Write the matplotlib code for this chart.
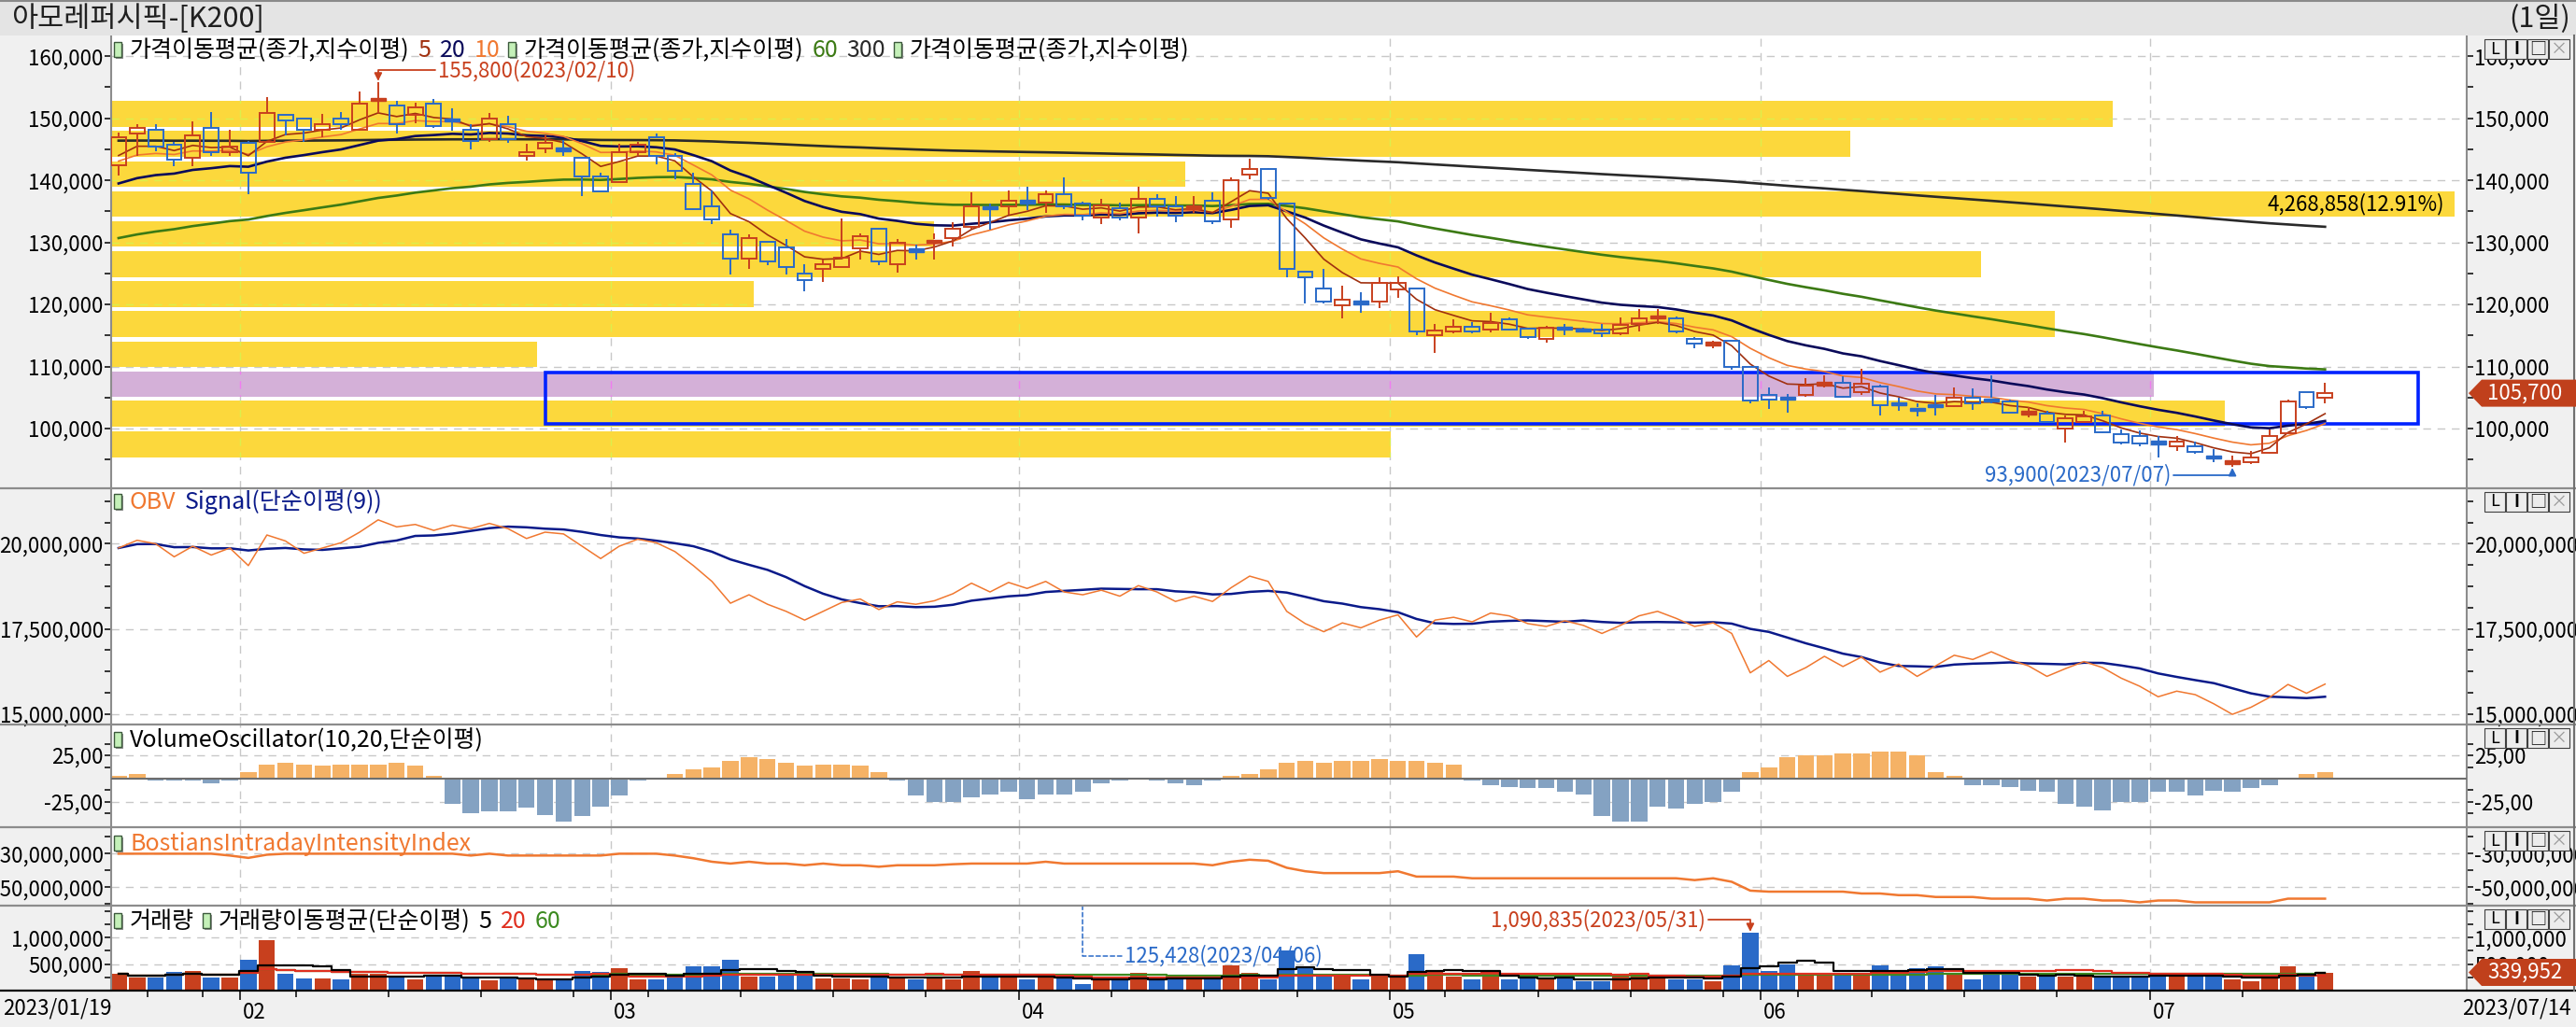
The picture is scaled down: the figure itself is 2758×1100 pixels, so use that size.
import numpy as np
import pandas as pd
import matplotlib
matplotlib.use("Agg")
import matplotlib.pyplot as plt
import matplotlib.transforms as mtransforms
from matplotlib.patches import Rectangle, Polygon
from matplotlib.collections import LineCollection
from matplotlib.lines import Line2D
from matplotlib.path import Path
from matplotlib.ticker import FixedLocator, MultipleLocator, FuncFormatter

plt.rcParams['font.family'] = ['Noto Sans CJK KR', 'DejaVu Sans']

# ---------------- data ----------------
holidays = ['2023-01-23', '2023-01-24', '2023-03-01', '2023-05-01',
            '2023-05-05', '2023-05-29', '2023-06-06']
dates = pd.bdate_range('2023-01-19', '2023-07-14')
dates = dates[~dates.isin(pd.to_datetime(holidays))]

open_ = np.array([
    142400, 147600, 148100, 145700, 143600, 148500, 144600, 146100, 146200, 150600,
    150000, 148100, 150000, 148100, 153000, 152100, 150500, 152400, 150000, 148100,
    146600, 149100, 143900, 145100, 145200, 143600, 140600, 139700, 144600, 147000,
    144000, 139400, 135800, 131300, 127400, 130100, 129200, 125000, 125800, 126100,
    129100, 132200, 126500, 129000, 129900, 130700, 132500, 135800, 135800, 136800,
    136400, 137700, 136200, 134000, 135500, 134000, 137000, 135800, 135400, 136700,
    133700, 141000, 141900, 136200, 125300, 122600, 119800, 120400, 120500, 122400,
    122600, 115000, 115600, 116400, 115900, 117600, 116100, 114400, 116300, 116000,
    116000, 115300, 116900, 117900, 117800, 114500, 113500, 114100, 110000, 105400,
    105100, 105400, 106900, 107300, 105800, 106700, 104100, 103400, 103900, 103600,
    104900, 104900, 104300, 102300, 102400, 100000, 101100, 102100, 99100, 98800,
    97900, 97200, 97200, 95600, 94300, 94600, 96100, 99300, 105800, 104900])
high = np.array([
    147700, 149100, 149100, 146200, 149500, 151000, 148200, 146400, 153400, 150600,
    150000, 150700, 151000, 154300, 155800, 152800, 152500, 153100, 151600, 149000,
    150900, 150400, 145900, 147200, 146500, 143600, 141300, 145900, 146200, 147500,
    144400, 141200, 138400, 132000, 131300, 130100, 130500, 126500, 127300, 133800,
    131400, 132200, 130500, 129600, 131400, 133200, 138000, 136200, 138300, 138900,
    138300, 140500, 136500, 137000, 136400, 138900, 137700, 137400, 137400, 138000,
    140500, 143500, 142000, 136400, 125300, 125700, 123000, 122000, 124400, 124500,
    122600, 116900, 117600, 117100, 118700, 117900, 116300, 116500, 116900, 116200,
    116900, 117900, 119200, 119200, 118000, 114800, 114200, 114100, 110000, 106600,
    105600, 108200, 108600, 108500, 109700, 107100, 104900, 104100, 105400, 106600,
    106500, 108600, 104700, 103500, 102900, 102100, 102800, 102800, 99800, 99700,
    98800, 98800, 97900, 96700, 95600, 96400, 99800, 104600, 105800, 107400])
low = np.array([
    140800, 143900, 144700, 142300, 142300, 143900, 143900, 137800, 146000, 147200,
    146200, 146900, 148100, 148000, 150900, 147500, 149200, 148400, 148000, 145000,
    146200, 146000, 143200, 144400, 143900, 137500, 138200, 139700, 143900, 142600,
    140200, 135200, 133000, 124900, 125800, 126400, 124900, 122100, 123600, 126100,
    127300, 126400, 125100, 127300, 127300, 129400, 132200, 132000, 134400, 135200,
    134800, 135300, 133600, 132900, 133600, 131400, 134200, 133300, 134800, 132900,
    132300, 140200, 136900, 124400, 120200, 120200, 117800, 118700, 119400, 121100,
    115000, 112200, 115400, 115400, 115500, 115800, 114500, 113900, 115000, 115500,
    114700, 115000, 115600, 116900, 115400, 112900, 113000, 109500, 104100, 103200,
    102600, 105100, 106600, 104900, 105400, 102100, 102900, 101900, 102100, 103400,
    103000, 104100, 102400, 101800, 100900, 97800, 100900, 99300, 97400, 97200,
    95400, 96400, 95900, 94600, 93900, 94300, 95900, 99300, 103100, 104100])
close = np.array([
    147000, 148500, 145500, 143400, 147300, 144600, 145500, 141200, 150900, 149600,
    148100, 149100, 149100, 152400, 153100, 149100, 151800, 148800, 149400, 146400,
    150000, 146600, 144600, 146100, 144800, 140600, 138200, 144600, 145700, 143900,
    141600, 135400, 133700, 127400, 130700, 127000, 126100, 124000, 126500, 127600,
    131000, 127000, 130000, 128500, 130500, 132200, 135800, 135400, 136700, 136300,
    137700, 135800, 134300, 136000, 134000, 137000, 135800, 134300, 135900, 133400,
    140100, 141900, 137100, 125700, 124400, 120500, 120800, 120200, 123400, 123400,
    115600, 115800, 116400, 115600, 117000, 116000, 114800, 116300, 116100, 115800,
    115300, 116700, 117800, 118000, 115600, 113700, 113900, 109900, 104500, 104600,
    104600, 106900, 107500, 105100, 107200, 103700, 103900, 102800, 103500, 104900,
    104000, 104300, 102600, 102800, 101100, 101600, 102000, 99400, 97800, 97600,
    97600, 97900, 96300, 95200, 94900, 95400, 98800, 104300, 103500, 105700])
volume = np.array([
    313000, 247000, 247000, 353000, 367000, 247000, 247000, 587000, 947000, 313000,
    233000, 233000, 200000, 313000, 313000, 267000, 200000, 267000, 300000, 220000,
    187000, 220000, 200000, 187000, 200000, 367000, 347000, 413000, 200000, 200000,
    267000, 447000, 447000, 587000, 267000, 267000, 300000, 300000, 233000, 233000,
    200000, 333000, 253000, 200000, 250000, 200000, 367000, 247000, 247000, 200000,
    247000, 267000, 125428, 200000, 200000, 333000, 200000, 200000, 200000, 200000,
    480000, 333000, 200000, 767000, 433000, 267000, 267000, 200000, 300000, 300000,
    687000, 367000, 267000, 200000, 313000, 200000, 220000, 220000, 220000, 167000,
    167000, 300000, 300000, 233000, 200000, 200000, 167000, 480000, 1090835, 367000,
    500000, 333000, 333000, 333000, 333000, 480000, 333000, 413000, 447000, 300000,
    200000, 333000, 333000, 267000, 267000, 267000, 267000, 267000, 267000, 267000,
    333000, 267000, 267000, 267000, 200000, 167000, 333000, 447000, 333000, 339952])
obv = np.array([
    19876000, 20103000, 20000000, 19618000, 19928000, 19669000, 19876000, 19359000, 20258000, 20083000,
    19721000, 19876000, 20031000, 20341000, 20703000, 20496000, 20568000, 20393000, 20548000, 20444000,
    20599000, 20444000, 20155000, 20341000, 20289000, 19928000, 19566000, 19928000, 20134000, 20031000,
    19773000, 19359000, 18895000, 18254000, 18502000, 18223000, 18016000, 17758000, 18016000, 18275000,
    18378000, 18068000, 18295000, 18223000, 18326000, 18533000, 18843000, 18585000, 18864000, 18688000,
    18895000, 18585000, 18502000, 18636000, 18461000, 18771000, 18585000, 18306000, 18461000, 18306000,
    18709000, 19050000, 18895000, 18016000, 17655000, 17417000, 17676000, 17531000, 17758000, 17913000,
    17262000, 17758000, 17841000, 17707000, 17965000, 17882000, 17655000, 17572000, 17738000, 17603000,
    17366000, 17603000, 17882000, 18016000, 17810000, 17572000, 17676000, 17366000, 16209000, 16570000,
    16105000, 16363000, 16694000, 16394000, 16673000, 16229000, 16467000, 16105000, 16415000, 16725000,
    16601000, 16828000, 16591000, 16415000, 16105000, 16333000, 16539000, 16363000, 16054000, 15816000,
    15506000, 15671000, 15568000, 15299000, 14989000, 15196000, 15485000, 15868000, 15609000, 15878000])
vol_osc = np.array([
    3.4, 5.3, -2.3, -2.3, -2.3, -4.9, -2.3, 7.2, 14.8, 17.4,
    15.5, 13.6, 15.5, 15.5, 15.5, 17.4, 13.6, 3.4, -27.3, -37.5,
    -34.8, -34.8, -31.1, -39.0, -46.6, -40.5, -30.7, -18.6, -2.3, 0.5,
    5.3, 9.8, 11.7, 19.3, 23.5, 21.2, 17.4, 13.6, 14.8, 14.8,
    13.6, 7.2, -2.3, -18.6, -25.0, -25.0, -20.5, -16.7, -14.4, -22.3,
    -16.7, -16.7, -14.4, -4.9, -2.3, -0.5, -2.3, -4.9, -6.8, -2.3,
    3.4, 5.3, 9.8, 17.4, 19.3, 17.4, 19.3, 19.3, 21.2, 19.3,
    19.3, 17.4, 14.8, -2.3, -6.8, -8.7, -10.6, -10.6, -14.4, -16.7,
    -40.5, -46.6, -46.6, -30.7, -32.6, -26.9, -25.0, -14.4, 7.2, 11.7,
    23.5, 25.0, 25.0, 27.3, 27.3, 29.5, 29.5, 25.0, 7.2, 3.4,
    -6.8, -6.8, -8.7, -12.9, -14.4, -26.9, -30.7, -34.5, -25.0, -25.0,
    -14.4, -14.4, -18.6, -12.9, -14.4, -10.6, -6.8, 0.0, 5.3, 7.2])
bii_m = np.array([
    -30.0, -30.0, -30.0, -30.0, -30.0, -30.0, -31.1, -32.5, -30.6, -30.0,
    -30.0, -30.0, -30.0, -30.0, -30.0, -30.0, -30.0, -30.0, -30.0, -31.1,
    -30.0, -31.1, -31.1, -31.1, -31.1, -31.1, -31.1, -30.0, -30.0, -30.0,
    -31.1, -32.7, -34.8, -35.9, -34.8, -35.9, -35.9, -36.9, -35.9, -36.9,
    -36.9, -37.8, -36.9, -36.9, -36.9, -36.3, -35.9, -35.9, -35.9, -35.9,
    -34.8, -35.9, -35.9, -35.9, -35.9, -35.9, -35.9, -35.9, -35.9, -36.9,
    -34.8, -33.6, -34.2, -38.4, -40.5, -41.6, -41.6, -41.6, -41.6, -40.5,
    -43.7, -43.7, -43.7, -44.7, -44.7, -44.7, -44.7, -44.7, -44.7, -44.7,
    -44.7, -44.7, -44.7, -44.7, -44.7, -45.8, -44.7, -46.8, -52.1, -52.7,
    -52.7, -52.7, -52.7, -52.7, -53.8, -53.8, -54.8, -54.8, -55.9, -55.9,
    -55.9, -56.9, -56.9, -56.9, -58.0, -56.9, -56.9, -58.0, -58.0, -59.1,
    -58.0, -58.0, -59.1, -59.1, -59.1, -59.1, -59.1, -56.9, -56.9, -56.9])

# starting values of the exponential averages (read at the first candle)
ema_seed = {5: 144000, 10: 143100, 20: 139500, 60: 130700, 300: 146400}

# volume profile bands: lower price edge, volume
band_low = [95400, 100300, 105100, 109900, 114800, 119600,
            124400, 129300, 134100, 138900, 143800, 148600]
band_vol = [2330200, 3850100, 3720700, 776200, 3540300, 1171000,
            3405900, 1499500, 4268858, 1955700, 3167600, 3645900]
band_pct_max = 12.91
BAND_H = 4150

# user drawn box
box_idx = (23, 124)
box_price = (100750, 109000)

# ---------------- style ----------------
W, H = 2758, 1100
AX_L, AX_R = 119, 2641
XL, XR = -0.40, 126.64
RED = '#C8401E'
BLUE = '#2A6AC8'
TAG = '#C0401C'
YELLOW = '#FCD83C'
PURPLE = '#D4B0D8'
GRID = '#C8C8C8'
FS_TICK, FS_LEG, FS_TITLE, FS_ANN = 16, 18, 22, 16
C_E5, C_E10, C_E20, C_E60, C_E300 = '#A0300F', '#F07830', '#0A0A5A', '#3C7A14', '#2A2A2A'

n = len(close)
x = np.arange(n)
up = close >= open_
cols = np.where(up, RED, BLUE)

month_start = [i for i in range(1, n) if dates[i].month != dates[i - 1].month]
week_start = [i for i in range(1, n)
              if dates[i].isocalendar()[1] != dates[i - 1].isocalendar()[1]]
month_x = np.array(month_start) - 0.45
week_x = np.array(week_start) - 0.45


def ema(values, period, seed):
    a = 2.0 / (period + 1)
    out = np.empty(len(values))
    out[0] = seed
    for i in range(1, len(values)):
        out[i] = out[i - 1] + a * (values[i] - out[i - 1])
    return out


fig = plt.figure(figsize=(W / 100, H / 100), dpi=100, facecolor='#F0F0F0')
ident = mtransforms.IdentityTransform()


def add_panel(top, bottom):
    ax = fig.add_axes([AX_L / W, 1 - bottom / H, (AX_R - AX_L) / W, (bottom - top) / H])
    ax.set_xlim(XL, XR)
    ax.set_facecolor('white')
    for s in ('top', 'bottom'):
        ax.spines[s].set_visible(False)
    for s in ('left', 'right'):
        ax.spines[s].set_color('#8C8C8C')
        ax.spines[s].set_linewidth(1.5)
    ax.tick_params(axis='y', which='both', left=True, right=True, labelleft=True,
                   labelright=True, direction='out', length=5, width=1.1, pad=1,
                   labelsize=FS_TICK, colors='black')
    ax.tick_params(axis='x', which='both', bottom=False, labelbottom=False)
    return ax


def grid(ax, ylevels):
    lines = []
    for y in ylevels:
        lines.append(ax.axhline(y, color=GRID, lw=1.0, ls=(0, (6, 5)), zorder=0.5))
    for m in month_x:
        lines.append(ax.axvline(m, color=GRID, lw=1.0, ls=(0, (6, 5)), zorder=0.5))
    return lines


comma = FuncFormatter(lambda v, p: f'{v:,.0f}')

# ---------------- main price panel ----------------
ax = add_panel(38, 523)
ax.set_ylim(90370, 163350)
ax.yaxis.set_major_locator(FixedLocator(np.arange(100000, 160001, 10000)))
ax.yaxis.set_minor_locator(FixedLocator(np.arange(95000, 163000, 10000)))
ax.yaxis.set_major_formatter(comma)
main_levels = np.arange(100000, 160001, 10000)
grid(ax, main_levels)

vmax = max(band_vol)
span = 0.995 * (XR - XL)
yellow_paths, purple_paths = [], []
for lo, v in zip(band_low, band_vol):
    w = v / vmax * span
    is_cur = lo <= close[-1] < lo + BAND_H
    ax.add_patch(Rectangle((XL, lo), w, BAND_H, facecolor=PURPLE if is_cur else YELLOW,
                           edgecolor='none', zorder=1))
    p = Path([(XL, lo), (XL + w, lo), (XL + w, lo + BAND_H), (XL, lo + BAND_H), (XL, lo)],
             [Path.MOVETO, Path.LINETO, Path.LINETO, Path.LINETO, Path.CLOSEPOLY])
    (purple_paths if is_cur else yellow_paths).append(p)

# grid dashes seen through the bands take another tint
for paths, tint in ((yellow_paths, '#DCEF4C'), (purple_paths, '#F07CF0')):
    clip = Path.make_compound_path(*paths)
    for ln in grid(ax, main_levels):
        ln.set_color(tint)
        ln.set_zorder(1.2)
        ln.set_clip_path(clip, ax.transData)

kmax = int(np.argmax(band_vol))
ax.text(0.9905, band_low[kmax] + BAND_H / 2,
        f'{vmax:,}({band_pct_max:.2f}%)',
        transform=mtransforms.blended_transform_factory(ax.transAxes, ax.transData),
        ha='right', va='center', fontsize=FS_ANN, color='black', zorder=2)

ax.add_patch(Rectangle((box_idx[0], box_price[0]), box_idx[1] - box_idx[0],
                       box_price[1] - box_price[0], fill=False, edgecolor='#0022FF',
                       lw=2.6, zorder=2.5))

ax.plot(x, ema(close, 300, ema_seed[300]), color=C_E300, lw=1.9, zorder=3)
ax.plot(x, ema(close, 60, ema_seed[60]), color=C_E60, lw=1.9, zorder=3)
ax.plot(x, ema(close, 20, ema_seed[20]), color=C_E20, lw=1.9, zorder=3)
ax.plot(x, ema(close, 10, ema_seed[10]), color=C_E10, lw=1.2, zorder=3)
ax.plot(x, ema(close, 5, ema_seed[5]), color=C_E5, lw=1.2, zorder=3)

body_hi = np.maximum(open_, close)
body_lo = np.minimum(open_, close)
segs = [[(i, high[i]), (i, body_hi[i])] for i in x] + \
       [[(i, body_lo[i]), (i, low[i])] for i in x]
ax.add_collection(LineCollection(segs, colors=list(cols) * 2, linewidths=1.4, zorder=4))
for i in x:
    hgt = body_hi[i] - body_lo[i]
    if hgt < 700:
        ax.add_patch(Rectangle((i - 0.4, (body_hi[i] + body_lo[i]) / 2 - 250), 0.8, 500,
                               facecolor=cols[i], edgecolor=cols[i], lw=1.0, zorder=4))
    else:
        ax.add_patch(Rectangle((i - 0.4, body_lo[i]), 0.8, hgt, facecolor='none',
                               edgecolor=cols[i], lw=1.4, zorder=4))

ih = int(np.argmax(high))
ax.annotate(f'{high[ih]:,}({dates[ih]:%Y/%m/%d})', xy=(ih, high[ih]), xytext=(64, 13),
            textcoords='offset pixels', ha='left', va='center', color=RED, fontsize=FS_ANN,
            zorder=6,
            arrowprops=dict(arrowstyle='-|>', color=RED, lw=1.3, shrinkA=0, shrinkB=1,
                            mutation_scale=12, relpos=(0, 0.5),
                            connectionstyle='angle,angleA=0,angleB=90,rad=0'))
il = int(np.argmin(low))
ax.annotate(f'{low[il]:,}({dates[il]:%Y/%m/%d})', xy=(il, low[il]), xytext=(-66, -9),
            textcoords='offset pixels', ha='right', va='center', color=BLUE, fontsize=FS_ANN,
            zorder=6,
            arrowprops=dict(arrowstyle='-|>', color=BLUE, lw=1.3, shrinkA=0, shrinkB=1,
                            mutation_scale=12, relpos=(1, 0.5),
                            connectionstyle='angle,angleA=0,angleB=90,rad=0'))
ax_main = ax

# ---------------- OBV ----------------
ax = add_panel(523, 776.4)
ax.set_ylim(14.68e6, 21.63e6)
ax.yaxis.set_major_locator(FixedLocator([15e6, 17.5e6, 20e6]))
ax.yaxis.set_minor_locator(MultipleLocator(625000))
ax.yaxis.set_major_formatter(comma)
grid(ax, [15e6, 17.5e6, 20e6])
signal = pd.Series(obv).rolling(9, min_periods=1).mean().values
ax.plot(x, signal, color='#0A1A8A', lw=1.8, zorder=3)
ax.plot(x, obv, color='#F07830', lw=1.1, zorder=3)

# ---------------- Volume oscillator ----------------
ax = add_panel(776.4, 886.2)
ax.set_ylim(-52.6, 57.9)
ax.yaxis.set_major_locator(FixedLocator([-25, 25]))
ax.yaxis.set_minor_locator(FixedLocator([-37.5, -12.5, 12.5, 37.5]))
ax.yaxis.set_major_formatter(FuncFormatter(lambda v, p: f'{v:.2f}'.replace('.', ',')))
grid(ax, [-25, 25])
ax.bar(x, vol_osc, width=0.88, color=np.where(vol_osc >= 0, '#F5B266', '#84A2C2'), zorder=2)
ax.axhline(0, color='#6E6E6E', lw=1.5, zorder=3)

# ---------------- Bostian's intraday intensity ----------------
ax = add_panel(886.2, 969.7)
ax.set_ylim(-60.9e6, -14.25e6)
ax.yaxis.set_major_locator(FixedLocator([-50e6, -30e6]))
ax.yaxis.set_minor_locator(FixedLocator([-60e6, -40e6, -20e6]))
ax.yaxis.set_major_formatter(comma)
grid(ax, [-50e6, -30e6])
ax.plot(x, bii_m * 1e6, color='#F07830', lw=1.8, zorder=3)

# ---------------- Volume ----------------
ax = add_panel(969.7, 1060.6)
ax.set_ylim(0, 1.618e6)
ax.yaxis.set_major_locator(FixedLocator([500000, 1000000]))
ax.yaxis.set_minor_locator(FixedLocator([250000, 750000, 1250000, 1500000]))
ax.yaxis.set_major_formatter(comma)
grid(ax, [500000, 1000000])
ax.bar(x, volume, width=0.88, color=cols, zorder=2)
vs = pd.Series(volume)
for p, c in ((60, '#3C8A20'), (20, '#E03020'), (5, 'black')):
    ax.plot(x, vs.rolling(p, min_periods=1).mean(), color=c, lw=1.6,
            drawstyle='steps-mid', zorder=3)
ivx = int(np.argmax(volume))
ax.annotate(f'{volume[ivx]:,}({dates[ivx]:%Y/%m/%d})', xy=(ivx, volume[ivx]),
            xytext=(-48, 14), textcoords='offset pixels', ha='right', va='center',
            color=RED, fontsize=FS_ANN, zorder=6, annotation_clip=False,
            arrowprops=dict(arrowstyle='-|>', color=RED, lw=1.3, shrinkA=0, shrinkB=1,
                            mutation_scale=12, relpos=(1, 0.5),
                            connectionstyle='angle,angleA=0,angleB=90,rad=0'))
ivn = int(np.argmin(volume))
ax.annotate(f'{volume[ivn]:,}({dates[ivn]:%Y/%m/%d})', xy=(ivn, 1.0),
            xycoords=mtransforms.blended_transform_factory(ax.transData, ax.transAxes),
            xytext=(45, -54), textcoords='offset pixels', ha='left', va='center',
            color=BLUE, fontsize=FS_ANN, zorder=6, annotation_clip=False,
            arrowprops=dict(arrowstyle='-', color=BLUE, lw=1.1, linestyle=(0, (3, 2)),
                            shrinkA=0, shrinkB=0, relpos=(0, 0.5),
                            connectionstyle='angle,angleA=0,angleB=90,rad=0'))
# date axis under the volume panel
ax.set_xticks(month_x)
ax.set_xticklabels([f'{dates[i].month:02d}' for i in month_start])
ax.set_xticks(week_x, minor=True)
ax.tick_params(axis='x', which='major', bottom=True, labelbottom=True, direction='out',
               length=7, width=1.1, pad=2, labelsize=FS_TICK, colors='black')
ax.tick_params(axis='x', which='minor', bottom=True, direction='out', length=5, width=1.1,
               colors='black')
shift = mtransforms.ScaledTranslation(2 / 72, 0, fig.dpi_scale_trans)
for lbl in ax.get_xticklabels():
    lbl.set_ha('left')
    lbl.set_transform(lbl.get_transform() + shift)
ax_vol = ax

# ---------------- frame, title, legends ----------------
fig.add_artist(Rectangle((0, H - 38), W, 36, transform=ident, facecolor='#E4E4E4',
                         edgecolor='none', zorder=1))
fig.add_artist(Line2D([0, W], [H - 1, H - 1], transform=ident, color='#8A8A8A', lw=1.5))
for yy in (523, 776.4, 886.2, 969.7):
    fig.add_artist(Line2D([0, W], [H - yy, H - yy], transform=ident, color='#8C8C8C', lw=1.6))
fig.add_artist(Line2D([0, W], [H - 1061, H - 1061], transform=ident, color='black', lw=1.6))
fig.add_artist(Line2D([W - 2, W - 2], [H - 1061, H - 38], transform=ident, color='#707070',
                      lw=1.5))

fig.text(12, H - 20, '아모레퍼시픽-[K200]', transform=ident, ha='left', va='center',
         fontsize=FS_TITLE, color='#202020')
fig.text(W - 6, H - 20, '(1일)', transform=ident, ha='right', va='center',
         fontsize=FS_TITLE, color='#202020')
fig.text(3, H - 1080, f'{dates[0]:%Y/%m/%d}', transform=ident, ha='left', va='center',
         fontsize=FS_TICK)
fig.text(W - 5, H - 1080, f'{dates[-1]:%Y/%m/%d}', transform=ident, ha='right',
         va='center', fontsize=FS_TICK)

renderer = fig.canvas.get_renderer()


def legend_row(y, items):
    xx = 122
    for it in items:
        if it is None:
            fig.add_artist(Rectangle((xx + 2, H - y - 9), 8, 16, transform=ident,
                                     facecolor='#909090', edgecolor='none', zorder=5))
            fig.add_artist(Rectangle((xx, H - y - 7), 8, 16, transform=ident,
                                     facecolor='#C4F0B8', edgecolor='#3C5A3C', lw=1.0,
                                     zorder=5))
            xx += 17
        else:
            txt, c = it
            t = fig.text(xx, H - y, txt, transform=ident, ha='left', va='center',
                         fontsize=FS_LEG, color=c, zorder=6)
            xx += t.get_window_extent(renderer).width + 9


legend_row(54, [None, ('가격이동평균(종가,지수이평)', 'black'), ('5', C_E5), ('20', C_E20),
                ('10', C_E10), None, ('가격이동평균(종가,지수이평)', 'black'), ('60', C_E60),
                ('300', C_E300), None, ('가격이동평균(종가,지수이평)', 'black')])
legend_row(538, [None, ('OBV', '#F07830'), ('Signal(단순이평(9))', '#0A1A8A')])
legend_row(793, [None, ('VolumeOscillator(10,20,단순이평)', 'black')])
legend_row(904, [None, ('BostiansIntradayIntensityIndex', '#F07830')])
legend_row(987, [None, ('거래량', 'black'), None, ('거래량이동평균(단순이평)', 'black'),
                 ('5', 'black'), ('20', '#E03020'), ('60', '#3C8A20')])


def price_tag(a, value):
    y = a.transData.transform((0, value))[1]
    pts = [(AX_R + 2, y), (AX_R + 16, y + 14.5), (W, y + 14.5), (W, y - 14.5),
           (AX_R + 16, y - 14.5)]
    fig.add_artist(Polygon(pts, closed=True, transform=ident, facecolor=TAG,
                           edgecolor='none', zorder=8))
    fig.text(AX_R + 62, y, f'{value:,}', transform=ident, ha='center', va='center',
             fontsize=FS_TICK, color='white', zorder=9)


price_tag(ax_main, int(close[-1]))
price_tag(ax_vol, int(volume[-1]))


def buttons(top):
    for k, g in enumerate(['L', 'I', '□', '×']):
        x0 = 2660 + 23 * k
        fig.add_artist(Rectangle((x0, H - top - 25), 22, 21, transform=ident,
                                 facecolor='#ECECEC', edgecolor='#404040', lw=0.8, zorder=8))
        fig.text(x0 + 11, H - top - 14.5, g, transform=ident, ha='center', va='center',
                 fontsize=13, color='#9A9A9A' if g == '×' else 'black', zorder=9,
                 fontweight='bold' if g == 'I' else 'normal')


for top in (38, 523, 776.4, 886.2, 969.7):
    buttons(top)

fig.savefig('out.png', dpi=100, facecolor=fig.get_facecolor())
